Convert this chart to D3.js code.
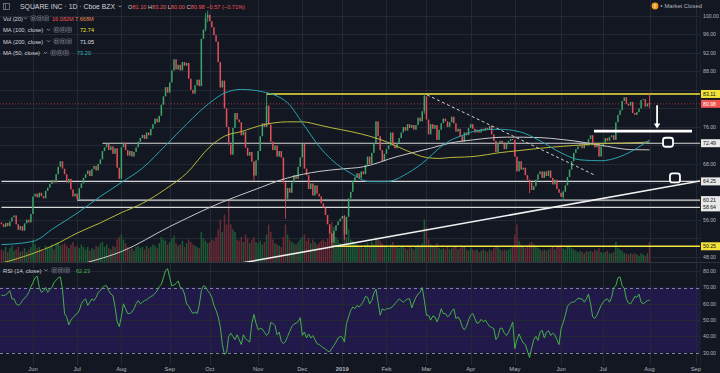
<!DOCTYPE html>
<html><head><meta charset="utf-8">
<script src="https://cdn.jsdelivr.net/npm/d3@7/dist/d3.min.js"></script>
<style>
html,body{margin:0;padding:0;background:#131722;overflow:hidden;}
svg{display:block;font-family:"Liberation Sans",Arial,sans-serif;}
</style></head><body>
<svg id="c" width="720" height="373"></svg>
<script>
// ---------------- DATA ----------------
const startDate = "2018-05-10";
const endDate = "2019-09-10";
const holidays = ["2018-05-28","2018-07-04","2018-09-03","2018-11-22","2018-12-05","2018-12-25",
  "2019-01-01","2019-01-21","2019-02-18","2019-04-19","2019-05-27","2019-07-04","2019-09-02"];

const firstOpen = 55.4;
const closes = [
 55.0,54.4,55.3,54.6,55.6,56.5,56.9,55.0,53.8,54.6,
 53.6,55.2,56.0,55.4,57.2,61.0,61.6,60.8,61.8,61.1,
 60.6,62.2,62.9,63.7,64.5,64.0,65.8,67.4,68.6,67.0,
 65.8,64.0,64.8,62.5,61.0,61.6,60.4,62.8,63.8,65.0,
 65.8,66.6,65.4,66.9,67.6,66.6,68.0,69.0,70.8,71.6,
 72.4,71.0,71.8,70.2,71.4,67.2,64.8,71.6,72.6,71.0,
 69.8,70.8,69.6,70.6,71.6,72.8,73.6,74.3,73.4,74.8,
 74.2,75.6,76.6,77.8,77.0,78.4,80.8,82.6,84.6,83.4,
 85.6,88.2,90.6,88.4,89.4,88.2,90.0,89.2,89.8,86.4,
 84.0,83.2,85.0,86.2,84.8,95.0,97.0,99.5,100.2,98.8,
 97.5,95.8,94.4,90.0,84.5,86.0,80.0,76.0,72.2,70.0,
 75.8,79.0,77.6,77.0,74.2,75.0,71.5,69.8,70.6,68.5,
 65.5,68.8,70.8,74.0,76.8,76.0,80.6,76.5,72.8,71.0,
 72.0,69.6,70.8,69.4,64.0,60.5,62.8,61.8,64.0,65.6,
 64.8,67.4,69.4,72.4,67.0,65.6,62.6,63.8,61.2,63.4,
 61.6,61.0,59.5,58.6,57.0,55.0,53.0,51.0,53.6,54.8,
 55.6,56.2,56.8,52.8,56.6,60.6,62.0,64.4,65.2,66.0,
 65.0,66.4,65.8,67.8,69.6,68.0,70.4,72.6,77.2,74.0,
 71.0,68.6,70.2,71.2,72.0,74.8,72.0,71.4,72.6,73.6,
 74.8,76.0,75.2,76.6,75.8,76.4,75.4,76.4,78.0,77.2,
 79.4,82.6,77.6,74.4,76.6,75.6,76.4,73.2,75.4,76.8,
 77.8,77.2,76.0,77.0,78.2,76.8,75.0,75.6,74.0,72.8,
 74.8,74.2,75.8,76.6,75.6,74.8,75.4,74.8,75.6,75.2,
 75.8,75.4,76.2,74.4,73.0,70.6,72.6,73.0,72.4,71.2,
 72.4,73.0,73.4,73.2,69.6,66.4,68.6,66.8,67.2,65.6,
 64.6,64.0,62.4,63.2,64.6,65.8,66.4,65.0,66.4,65.4,
 66.6,65.0,63.6,64.6,62.6,61.8,60.9,62.0,63.4,65.2,
 66.8,68.6,70.4,71.2,71.8,72.2,71.4,72.4,72.0,73.4,
 74.2,72.6,71.6,72.4,69.6,71.8,72.6,73.6,73.0,73.8,
 74.2,73.2,77.0,78.6,79.6,81.6,82.4,81.0,80.6,81.4,
 79.0,78.6,79.2,80.0,81.8,82.0,80.4,81.1,80.98
];
// notable wicks: [bar, high, low]
const wicks = [[97,100.6,96.6],[98,101.1,98.6],[120,68.6,64.4],[126,83.1,76.0],[135,64.0,56.2],
  [157,53.0,49.9],[163,57.0,51.6],[201,83.1,78.8],[251,64.6,61.7],[267,62.2,60.0],[308,83.2,80.0]];
const volumes = [
 10,9,12,8,11,13,9,10,12,8,
 9,11,8,10,12,18,14,11,12,10,
 9,13,11,12,14,10,15,16,13,14,
 15,13,11,14,16,12,13,11,14,12,
 10,12,9,11,10,13,12,15,16,12,
 14,11,10,13,12,18,20,22,18,15,
 12,10,11,9,12,13,11,12,10,13,
 11,12,14,13,11,15,20,18,17,14,
 16,19,21,15,13,14,17,12,15,18,
 16,14,13,12,11,24,19,17,15,16,
 18,17,20,26,34,24,38,30,50,30,
 26,24,18,17,20,16,22,19,15,18,
 20,16,15,17,14,16,22,30,24,18,
 15,14,13,12,20,30,22,18,16,15,
 14,16,18,20,22,17,19,15,18,16,
 14,15,17,18,16,19,24,32,28,20,
 18,15,14,22,20,26,18,17,15,14,
 12,13,11,14,15,13,16,14,20,18,
 17,15,13,12,11,14,16,13,12,11,
 12,13,11,10,12,11,10,12,14,13,
 15,34,28,18,14,12,13,15,11,10,
 11,10,12,10,11,13,12,10,11,13,
 12,10,9,11,10,9,10,8,9,10,
 9,8,10,9,11,13,12,10,9,10,
 9,10,11,12,22,30,17,14,12,11,
 13,15,16,14,12,11,10,9,10,9,
 10,11,12,10,13,12,14,11,10,12,
 13,11,10,9,8,9,8,7,9,8,
 9,8,10,9,11,8,7,8,9,7,
 7,8,16,11,10,9,7,7,6,7,
 6,7,6,5,7,6,5,7,16.08
];
const rsi = [
 65.3,65.0,65.5,66.5,68.0,63.0,63.0,60.0,59.0,60.0,
 62.0,63.5,65.0,67.0,70.5,73.0,76.0,77.0,70.0,67.0,
 68.0,70.0,67.0,69.0,70.0,73.0,74.5,76.0,76.5,69.0,
 54.0,52.0,47.0,50.0,51.5,53.0,54.0,56.0,60.0,62.0,
 63.0,59.0,61.0,63.0,62.0,64.0,67.0,68.0,70.0,71.0,
 71.0,68.0,66.0,65.0,58.0,49.0,46.0,52.0,60.0,57.0,
 54.0,54.0,55.0,57.0,60.0,62.0,60.0,61.0,62.0,62.5,
 63.5,64.5,65.0,66.5,68.0,70.5,72.0,76.0,80.5,81.5,
 76.0,71.0,71.5,72.5,74.0,70.0,69.5,66.0,60.0,58.5,
 56.0,54.0,55.0,54.0,59.0,68.0,71.0,70.5,68.0,66.5,
 64.0,59.0,56.0,52.0,46.0,35.0,29.0,30.0,40.0,42.0,
 40.0,38.0,41.0,38.0,35.0,41.0,38.5,37.5,36.5,48.0,
 53.5,48.0,44.0,45.0,44.5,42.5,40.6,42.0,48.5,48.0,
 46.7,41.0,42.7,37.0,35.5,37.0,40.0,43.0,46.0,47.5,
 48.0,49.0,51.5,40.6,42.7,39.0,41.5,39.0,40.5,38.0,
 35.5,35.0,34.0,33.0,32.3,31.0,30.5,32.5,34.5,36.5,
 39.0,40.0,39.5,36.5,48.0,52.0,56.0,58.0,57.0,59.0,
 58.0,59.5,61.5,64.5,64.0,60.0,62.0,66.5,69.0,61.0,
 53.0,57.0,56.0,57.0,57.0,57.5,58.5,60.0,61.5,63.0,
 62.0,61.0,62.0,63.0,63.0,57.5,61.0,64.0,66.0,67.0,
 70.0,62.0,53.0,53.0,50.0,52.5,52.0,49.0,52.0,57.0,
 54.0,54.0,52.0,53.0,55.5,57.0,51.0,52.0,50.0,46.0,
 44.0,46.0,50.0,53.0,54.0,51.0,48.0,48.5,50.5,49.0,
 50.0,48.0,46.0,45.5,44.8,38.0,40.0,45.0,45.0,42.0,
 40.5,42.5,45.5,48.8,32.5,38.0,41.5,38.5,36.0,35.0,
 31.0,27.0,33.0,38.0,40.0,37.5,42.7,43.7,39.0,42.5,
 43.5,40.5,42.0,41.0,38.0,35.0,45.0,48.5,53.0,58.5,
 60.0,61.0,61.0,62.0,63.5,63.0,63.0,61.0,63.0,66.0,
 60.0,52.0,51.0,53.0,56.0,59.0,61.0,62.5,63.0,61.0,
 64.0,70.0,71.0,76.0,76.5,71.0,69.5,63.0,60.5,60.0,
 62.0,64.5,64.0,66.0,61.0,60.0,61.0,62.0,62.23
];
// Moving averages at sample bars
const maIdx   = [0,15,25,36,47,57,67,78,88,99,106,114,124,136,143,151,157,166,175,183,193,202,208,213,220,226,236,246,256,266,275,285,294,302,308];
const ma50    = [50.6,51.3,54.2,57.4,61.0,64.0,67.1,72.0,76.6,81.2,83.3,84.1,83.6,81.2,76.9,71.8,68.9,66.0,64.2,64.2,66.0,68.9,71.4,73.0,74.3,75.2,75.5,75.0,73.0,70.4,68.9,68.7,69.6,71.4,73.2];
const ma100   = [46.6,48.7,50.5,53.1,55.3,57.5,59.5,62.6,66.0,71.7,74.0,75.0,76.4,77.1,77.1,76.4,75.8,75.0,74.0,72.8,70.8,69.4,69.2,69.4,69.5,69.7,70.4,70.9,71.4,71.8,72.1,72.4,72.5,72.6,72.74];
const ma200Idx= [0,25,45,57,80,104,120,136,151,161,172,188,204,213,224,240,256,266,272,288,299,308];
const ma200   = [43.5,45.2,47.3,49.1,54.5,59.6,62.4,65.0,66.4,66.9,67.4,69.6,71.4,72.5,73.2,73.8,73.7,73.3,73.0,71.8,71.1,71.05];

// Drawings (bar index, price)
const levelLines = [ {p:72.49, from:48}, {p:64.25, from:0}, {p:60.21, from:36}, {p:58.64, from:0} ];
const yellowLines = [ {p:83.11, from:126}, {p:50.25, from:157} ];
const trendUp = [[114.3,46.65],[332,64.33]];
const trendDown = [[202.3,82.9],[282,65.6]];
const targetLine = {p:75.1, from:281.6, to:328.2};
const arrow = {i:311.6, p1:80.7, p2:75.9};
const boxes = [{i:316.8,p:72.7},{i:320.1,p:65.0}];
const priceTicks = [48,52,56,60,64,68,72,76,80,84,88,92,96,100];
const rsiTicks = [30,40,50,60,70,80];
const priceLabels = [
 {p:83.11,bg:"#f2e33a",fg:"#111"},{p:80.98,bg:"#ef5350",fg:"#fff"},
 {p:72.49,bg:"#e8e8e8",fg:"#111"},{p:64.25,bg:"#e8e8e8",fg:"#111"},
 {p:60.21,bg:"#e8e8e8",fg:"#111"},{p:58.64,bg:"#e8e8e8",fg:"#111"},
 {p:50.25,bg:"#f2e33a",fg:"#111"}];
const lastPrice = 80.98;

// ---------------- CHART ----------------
const svg = d3.select("#c");
const BG="#131722", GRID="#242833", TXT="#b2b5be";
const UP="#3da66a", DN="#e4505a";
const plotR=700, paneB=262, rsiT=263, rsiB=365;

function tradingDays(s,e,hol){const hs=new Set(hol);const out=[];const d=new Date(s+"T12:00:00Z");const end=new Date(e+"T12:00:00Z");
 while(d<=end){const wd=d.getUTCDay();const k=d.toISOString().slice(0,10);if(wd!==0&&wd!==6&&!hs.has(k))out.push(new Date(d));d.setUTCDate(d.getUTCDate()+1);}return out;}
const days = tradingDays(startDate,endDate,holidays);

const x = d3.scaleLinear().domain([-0.684,332.0]).range([0,plotR]);
const y = d3.scaleLinear().domain([48,100]).range([256.7,15.7]);
const vy = d3.scaleLinear().domain([0,60]).range([paneB,paneB-75]);
const ry = d3.scaleLinear().domain([30,80]).range([352.7,271.2]);

svg.append("rect").attr("width",720).attr("height",373).attr("fill",BG);

const defs = svg.append("defs");
defs.append("clipPath").attr("id","pc").append("rect").attr("x",0).attr("y",0).attr("width",plotR).attr("height",paneB);
defs.append("clipPath").attr("id","rc").append("rect").attr("x",0).attr("y",rsiT).attr("width",plotR).attr("height",rsiB-rsiT);

const monthTicks=[];
for(let i=1;i<days.length && i<=332;i++){ if(days[i].getUTCMonth()!==days[i-1].getUTCMonth()) monthTicks.push({i,d:days[i]}); }

svg.append("rect").attr("x",0).attr("width",plotR).attr("y",ry(70)).attr("height",ry(30)-ry(70)).attr("fill","#21194a");

const grid = svg.append("g").attr("stroke",GRID).attr("stroke-width",1);
grid.selectAll("line.v").data(monthTicks).join("line").attr("x1",d=>Math.round(x(d.i))+0.5).attr("x2",d=>Math.round(x(d.i))+0.5).attr("y1",0).attr("y2",rsiB);
grid.selectAll("line.h").data(priceTicks).join("line").attr("x1",0).attr("x2",plotR).attr("y1",d=>Math.round(y(d))+0.5).attr("y2",d=>Math.round(y(d))+0.5);
grid.selectAll("line.r").data([40,50,60,80]).join("line").attr("x1",0).attr("x2",plotR).attr("y1",d=>Math.round(ry(d))+0.5).attr("y2",d=>Math.round(ry(d))+0.5);
svg.append("g").selectAll("line").data([70,30]).join("line").attr("x1",0).attr("x2",plotR)
 .attr("y1",d=>Math.round(ry(d))+0.5).attr("y2",d=>Math.round(ry(d))+0.5).attr("stroke","#8c8fa0").attr("stroke-dasharray","3,3").attr("stroke-width",0.9);

const pg = svg.append("g").attr("clip-path","url(#pc)");
const bars = closes.map((c,i)=>({i,c,o:i===0?firstOpen:closes[i-1],v:volumes[i]}));
const bw = 1.5;
pg.append("g").selectAll("rect").data(bars).join("rect")
 .attr("x",d=>x(d.i)-bw/2).attr("width",bw).attr("y",d=>vy(d.v)).attr("height",d=>paneB-vy(d.v))
 .attr("fill",d=>d.c>=d.o?"#1d5b35":"#6a2a36");

pg.append("g").selectAll("line").data(levelLines).join("line")
 .attr("x1",d=>x(d.from)).attr("x2",plotR).attr("y1",d=>y(d.p)).attr("y2",d=>y(d.p))
 .attr("stroke","#d8d8d8").attr("stroke-width",1.1);
pg.append("g").selectAll("line").data(yellowLines).join("line")
 .attr("x1",d=>x(d.from)).attr("x2",plotR).attr("y1",d=>y(d.p)).attr("y2",d=>y(d.p))
 .attr("stroke","#f5e63c").attr("stroke-width",1.5);
pg.append("line").attr("x1",0).attr("x2",plotR).attr("y1",y(lastPrice)).attr("y2",y(lastPrice))
 .attr("stroke","#a8343c").attr("stroke-dasharray","1,2").attr("stroke-width",1);

// wicks then candle bodies
const barByI = new Map(bars.map(b=>[b.i,b]));
pg.append("g").selectAll("line").data(wicks).join("line")
 .attr("x1",d=>x(d[0])).attr("x2",d=>x(d[0])).attr("y1",d=>y(d[1])).attr("y2",d=>y(d[2])).attr("stroke-width",0.8)
 .attr("stroke",d=>{const b=barByI.get(d[0]);return b.c>=b.o?UP:DN;});
pg.append("g").selectAll("rect").data(bars).join("rect")
 .attr("x",d=>x(d.i)-bw/2).attr("width",bw)
 .attr("y",d=>y(Math.max(d.o,d.c))).attr("height",d=>Math.max(1,Math.abs(y(d.o)-y(d.c))))
 .attr("fill",d=>d.c>=d.o?UP:DN);

const lineGen = d3.line().curve(d3.curveMonotoneX);
pg.append("path").attr("d",lineGen(ma200Idx.map((k,j)=>[x(k),y(ma200[j])]))).attr("fill","none").attr("stroke","#c9c9c9").attr("stroke-width",1);
pg.append("path").attr("d",lineGen(maIdx.map((k,j)=>[x(k),y(ma100[j])]))).attr("fill","none").attr("stroke","#b9b83c").attr("stroke-width",1);
pg.append("path").attr("d",lineGen(maIdx.map((k,j)=>[x(k),y(ma50[j])]))).attr("fill","none").attr("stroke","#2aa3ad").attr("stroke-width",1);

pg.append("line").attr("x1",x(trendUp[0][0])).attr("y1",y(trendUp[0][1])).attr("x2",x(trendUp[1][0])).attr("y2",y(trendUp[1][1]))
 .attr("stroke","#f0f0f0").attr("stroke-width",1.6);
pg.append("line").attr("x1",x(trendDown[0][0])).attr("y1",y(trendDown[0][1])).attr("x2",x(trendDown[1][0])).attr("y2",y(trendDown[1][1]))
 .attr("stroke","#cfcfcf").attr("stroke-width",1).attr("stroke-dasharray","3,2.5");
pg.append("line").attr("x1",x(targetLine.from)).attr("x2",x(targetLine.to)).attr("y1",y(targetLine.p)).attr("y2",y(targetLine.p))
 .attr("stroke","#ffffff").attr("stroke-width",2.6);
const ax=x(arrow.i);
pg.append("line").attr("x1",ax).attr("x2",ax).attr("y1",y(arrow.p1)).attr("y2",y(arrow.p2)-3).attr("stroke","#fff").attr("stroke-width",1.8);
pg.append("path").attr("d",`M${ax-3.2},${y(arrow.p2)-4}L${ax+3.2},${y(arrow.p2)-4}L${ax},${y(arrow.p2)+1}Z`).attr("fill","#fff");
pg.append("g").selectAll("rect").data(boxes).join("rect")
 .attr("x",d=>x(d.i)-5).attr("y",d=>y(d.p)-4.5).attr("width",10).attr("height",9).attr("rx",2.5)
 .attr("fill",BG).attr("stroke","#fff").attr("stroke-width",1.8);

svg.append("line").attr("x1",0).attr("x2",720).attr("y1",paneB+0.5).attr("y2",paneB+0.5).attr("stroke","#2f3340");
svg.append("line").attr("x1",plotR+0.5).attr("x2",plotR+0.5).attr("y1",0).attr("y2",373).attr("stroke","#1c2029");

svg.append("g").attr("clip-path","url(#rc)").append("path")
 .attr("d",d3.line()(rsi.map((v,i)=>[x(i),ry(v)]))).attr("fill","none").attr("stroke","#45b04a").attr("stroke-width",1);

// axes labels
const axf=5.2;
const freeTicks = priceTicks.filter(t=>priceLabels.every(l=>Math.abs(y(l.p)-y(t))>8.5));
svg.append("g").selectAll("text").data(freeTicks).join("text").attr("x",703).attr("y",d=>y(d)+1.9)
 .attr("font-size",axf).attr("fill",TXT).text(d=>d.toFixed(2));
const pl = svg.append("g").selectAll("g").data(priceLabels).join("g");
pl.append("rect").attr("x",701).attr("y",d=>y(d.p)-4).attr("width",19).attr("height",8).attr("fill",d=>d.bg);
pl.append("text").attr("x",703).attr("y",d=>y(d.p)+1.9).attr("font-size",axf).attr("fill",d=>d.fg).text(d=>d.p.toFixed(2));
svg.append("g").selectAll("text").data(rsiTicks).join("text").attr("x",703).attr("y",d=>ry(d)+1.9)
 .attr("font-size",axf).attr("fill",TXT).text(d=>d.toFixed(2));
svg.append("g").selectAll("text").data(monthTicks).join("text").attr("x",d=>x(d.i)).attr("y",370.5)
 .attr("text-anchor","middle").attr("font-size",5.8).attr("fill",TXT)
 .attr("font-weight",d=>d.d.getUTCMonth()===0?"bold":"normal")
 .text(d=>d.d.getUTCMonth()===0?String(d.d.getUTCFullYear()):d3.utcFormat("%b")(d.d));

function chevron(g,cx,cy){g.append("path").attr("d",`M${cx-1.5},${cy-0.8}L${cx},${cy+0.7}L${cx+1.5},${cy-0.8}`).attr("fill","none").attr("stroke",TXT).attr("stroke-width",0.7);}
function icons(g,x0,cy){for(let k=0;k<3;k++){g.append("rect").attr("x",x0+k*6.3).attr("y",cy-2.5).attr("width",5).attr("height",5).attr("rx",0.8).attr("fill","#1c202b").attr("stroke","#6d7080").attr("stroke-width",0.6);
 g.append("rect").attr("x",x0+k*6.3+1.5).attr("y",cy-1).attr("width",2).attr("height",2).attr("fill","none").attr("stroke","#8a8d99").attr("stroke-width",0.5);}}
const lg = svg.append("g");
lg.append("rect").attr("x",3.5).attr("y",3.5).attr("width",6).attr("height",6).attr("fill","none").attr("stroke","#8a8d99").attr("stroke-width",0.7);
lg.append("line").attr("x1",5.5).attr("x2",5.5).attr("y1",3.5).attr("y2",9.5).attr("stroke","#8a8d99").attr("stroke-width",0.6);
lg.append("text").attr("x",20).attr("y",9).attr("font-size",7.2).attr("fill","#d1d4dc").attr("textLength",95).attr("lengthAdjust","spacingAndGlyphs").text("SQUARE INC · 1D · Cboe BZX");
chevron(lg,120,6.3);
const oh = lg.append("text").attr("x",128).attr("y",9).attr("font-size",5.8).attr("textLength",117).attr("lengthAdjust","spacingAndGlyphs");
[["O","81.10"],["H","83.20"],["L","80.00"],["C","80.98"]].forEach(([k,v])=>{oh.append("tspan").attr("fill","#c8cad2").text(k);oh.append("tspan").attr("fill","#ef5350").text(v+" ");});
oh.append("tspan").attr("fill","#ef5350").text("−0.57 (−0.71%)");
const rows=[
 {y:20.5,label:"Vol (20)",cv:25.5,ic:31,vals:[["16.082M","#ef5350",52],["7.668M","#f08a4b",75]]},
 {y:32,label:"MA (100, close)",cv:48.5,ic:54,vals:[["72.74","#e6e23a",80]]},
 {y:43.5,label:"MA (200, close)",cv:48.5,ic:54,vals:[["71.05","#e0e0e0",80]]},
 {y:55,label:"MA (50, close)",cv:45.5,ic:51,vals:[["73.20","#2eb3bf",77]]},
 {y:272.5,label:"RSI (14, close)",cv:46,ic:52,vals:[["62.23","#4caf50",76]]}
];
rows.forEach(r=>{lg.append("text").attr("x",3).attr("y",r.y).attr("font-size",5.8).attr("fill","#d1d4dc").text(r.label);
 chevron(lg,r.cv,r.y-2.3); icons(lg,r.ic,r.y-2.2);
 r.vals.forEach(([t,c,px])=>lg.append("text").attr("x",px).attr("y",r.y).attr("font-size",5.6).attr("fill",c).text(t));});
lg.append("circle").attr("cx",655).attr("cy",6).attr("r",3.4).attr("fill","#f39a1e");
lg.append("text").attr("x",655).attr("y",8.1).attr("text-anchor","middle").attr("font-size",5.5).attr("font-weight","bold").attr("fill","#fff").text("!");
lg.append("circle").attr("cx",661.5).attr("cy",6).attr("r",1).attr("fill","#9598a1");
lg.append("text").attr("x",664.5).attr("y",8.1).attr("font-size",5.8).attr("fill","#b2b5be").text("Market Closed");
</script>
</body></html>
